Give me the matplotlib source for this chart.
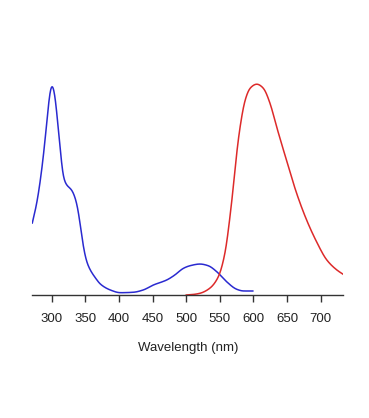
import numpy as np
import matplotlib
matplotlib.use("Agg")
import matplotlib.pyplot as plt

# Absorption (blue) spectrum: wavelength (nm) and relative intensity
abs_wl = [271, 277.7, 285, 290, 295, 298, 300, 302, 305, 308, 312.3, 317, 322,
          329.7, 337, 342, 347, 352, 358, 365, 372, 387, 401.6, 421, 436, 451,
          471, 483, 495.7, 505.6, 520.5, 532.8, 545.4, 560, 575, 585, 599]
abs_int = [72, 92, 125, 155, 190, 207, 211, 209, 198, 178, 148, 118, 110,
           105, 92, 72, 48, 33, 24, 17, 11, 5, 2.3, 2.7, 5, 10,
           15, 20, 26.7, 29.3, 31, 29.3, 23.3, 13.3, 5.7, 4, 4]

# Emission (red) spectrum
em_wl = [500, 510, 520.5, 535, 547.7, 557.7, 565, 570, 575, 580, 587.5, 595, 605,
         614.6, 624.5, 634.5, 649, 664, 679, 694, 709, 724, 735]
em_int = [0, 0.5, 1.7, 6.7, 18, 42, 78, 108, 142, 168, 195, 207, 211,
          207, 192, 168, 135, 102, 75, 53, 35, 25, 20]

xticks = [300, 350, 400, 450, 500, 550, 600, 650, 700]

plt.rcParams['font.family'] = ['Liberation Sans', 'DejaVu Sans']

fig = plt.figure(figsize=(3.69, 4.18), dpi=100)
ax = fig.add_axes([32.3/369, 123/418, (343.3-32.3)/369, 225/418])

def smooth(x, y, sigma=2.0):
    x = np.asarray(x, float); y = np.asarray(y, float)
    xs = np.linspace(x[0], x[-1], 800)
    h = np.diff(x); d = np.diff(y) / h
    m = np.zeros_like(y)
    m[0] = d[0]; m[-1] = d[-1]
    for i in range(1, len(y)-1):
        if d[i-1]*d[i] <= 0:
            m[i] = 0
        else:
            w1 = 2*h[i] + h[i-1]; w2 = h[i] + 2*h[i-1]
            m[i] = (w1 + w2) / (w1/d[i-1] + w2/d[i])
    idx = np.clip(np.searchsorted(x, xs) - 1, 0, len(x)-2)
    t = (xs - x[idx]) / h[idx]
    h00 = 2*t**3 - 3*t**2 + 1; h10 = t**3 - 2*t**2 + t
    h01 = -2*t**3 + 3*t**2; h11 = t**3 - t**2
    ys = h00*y[idx] + h10*h[idx]*m[idx] + h01*y[idx+1] + h11*h[idx]*m[idx+1]
    # light gaussian smoothing to remove interpolation kinks
    step = xs[1] - xs[0]
    half = int(4*sigma/step)
    k = np.exp(-0.5*((np.arange(-half, half+1)*step)/sigma)**2)
    k /= k.sum()
    padded = np.concatenate([np.full(half, ys[0]) + (ys[0]-ys[1:half+1][::-1]),
                             ys,
                             np.full(half, ys[-1]) + (ys[-1]-ys[-half-1:-1][::-1])])
    ys2 = np.convolve(padded, k, mode='valid')
    return xs, ys2

bx, by = smooth(abs_wl, abs_int)
rx, ry = smooth(em_wl, em_int)
ax.plot(bx, by, color='#2a2ad0', lw=1.1)
ax.plot(rx, ry, color='#dd2a2a', lw=1.1)

ax.set_xlim(271, 733.6)
ax.set_ylim(0, 225)
for s in ['top', 'right', 'left']:
    ax.spines[s].set_visible(False)
ax.spines['bottom'].set_color('#333333')
ax.spines['bottom'].set_linewidth(1.0)
ax.set_yticks([])
ax.set_xticks(xticks)
ax.tick_params(axis='x', direction='out', length=5, width=1.0, color='#333333',
               labelsize=9.5, pad=8, labelcolor='#222222')
ax.set_xlabel('Wavelength (nm)', fontsize=9.5, color='#222222', labelpad=12)

fig.savefig('out.png', dpi=100)
